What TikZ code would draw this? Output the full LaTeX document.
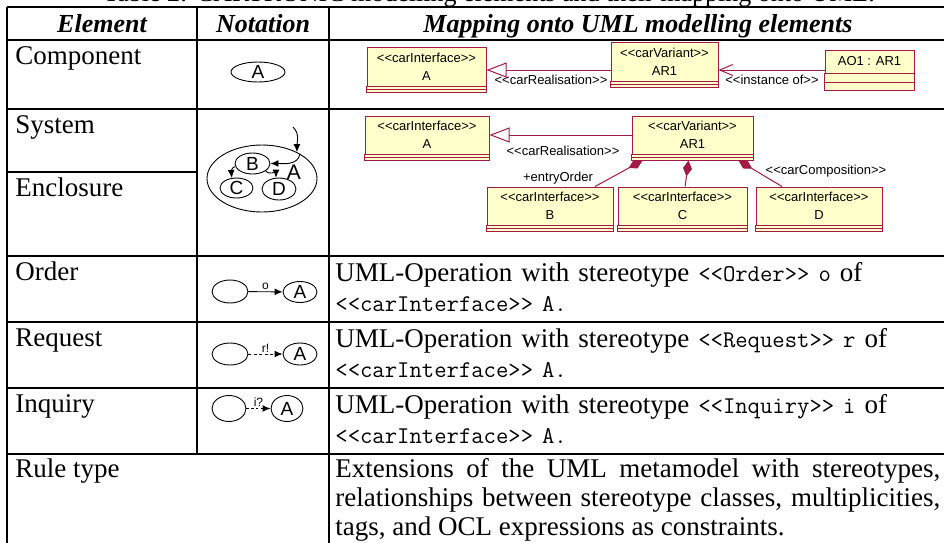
\documentclass[tikz,border=0pt]{standalone}
\usepackage{fontspec}
\setmainfont{Liberation Serif}
\setsansfont{Liberation Sans}
\usetikzlibrary{shapes.geometric,arrows.meta,positioning,calc}

\definecolor{umlline}{RGB}{163,26,68}
\definecolor{umlfill}{RGB}{255,255,204}
\newcommand{\stereo}[1]{<\kern0pt<#1>\kern0pt>}
\newcommand{\codetext}{\ttfamily\fontsize{12}{15}\selectfont}

\tikzset{
  rule/.style={line width=1.1pt},
  celltext/.style={anchor=base west, inner sep=0pt, align=left,
    font=\fontsize{13.5}{15}\selectfont},
  maptext/.style={celltext, text width=302.5pt},
  headtext/.style={anchor=base, inner sep=0pt,
    font=\fontsize{13}{15}\selectfont\bfseries\itshape},
  comp/.style={ellipse, draw, line width=0.45pt, inner sep=0pt,
    font=\sffamily\fontsize{9.5}{10}\selectfont},
  notearrow/.style={-{Latex[length=4pt,width=3.4pt]}, line width=0.45pt},
  notelabel/.style={inner sep=0.6pt, font=\sffamily\fontsize{6}{6}\selectfont},
  umlbox/.style={draw=umlline, fill=umlfill, line width=0.5pt, inner sep=0pt,
    align=center, font=\sffamily\fontsize{6.5}{9}\selectfont},
  umllabel/.style={inner sep=0pt, font=\sffamily\fontsize{6.5}{8}\selectfont},
  umlconn/.style={draw=umlline, line width=0.5pt},
}

\begin{document}
\begin{tikzpicture}[x=0.5pt, y=-0.5pt]
  \useasboundingbox (0,0) rectangle (944,542);

  \node[anchor=base, inner sep=0pt, font=\fontsize{13}{15}\selectfont] (caption)
    at (489,1) {Table 2: CARTRONIC modelling elements and their mapping onto UML.};

  % table rules
  \draw[rule] (7,7) -- (948,7);
  \draw[rule] (7,40) -- (948,40);
  \draw[rule] (7,109) -- (948,109);
  \draw[rule] (7,172) -- (197,172);
  \draw[rule] (7,256) -- (948,256);
  \draw[rule] (7,322) -- (948,322);
  \draw[rule] (7,388) -- (948,388);
  \draw[rule] (7,454) -- (948,454);
  \draw[rule] (7,7) -- (7,545);
  \draw[rule] (197,7) -- (197,454);
  \draw[rule] (329,7) -- (329,545);
  \draw[rule] (948,7) -- (948,545);

  % header
  \node[headtext] (hElement) at (102,32) {Element};
  \node[headtext] (hNotation) at (263,32) {Notation};
  \node[headtext] (hMapping) at (638,32) {Mapping onto UML modelling elements};

  % element names
  \node[celltext] (eComponent) at (15,64) {Component};
  \node[celltext] (eSystem) at (15,133) {System};
  \node[celltext] (eEnclosure) at (15,196) {Enclosure};
  \node[celltext] (eOrder) at (15,280) {Order};
  \node[celltext] (eRequest) at (15,346) {Request};
  \node[celltext] (eInquiry) at (15,412) {Inquiry};
  \node[celltext] (eRule) at (15,477) {Rule type};

  % notation: component
  \node[comp, minimum width=27pt, minimum height=10pt] (nCompA) at (258,72) {A};

  % notation: system / enclosure
  \node[comp, minimum width=55pt, minimum height=33.5pt] (nSys) at (262,178.5) {};
  \node[inner sep=0pt, font=\sffamily\fontsize{10.5}{11}\selectfont] (nSysA) at (294,172) {A};
  \node[comp, minimum width=17.5pt, minimum height=10.5pt] (nB) at (252.5,163.5) {B};
  \node[comp, minimum width=16.5pt, minimum height=10pt] (nC) at (236.5,188) {C};
  \node[comp, minimum width=17pt, minimum height=11pt] (nD) at (279,189) {D};
  \coordinate (sysIn) at (293,127);
  \draw[notearrow] (sysIn) to[out=-45, in=90] (nSys.37);
  \draw[notearrow] (nSys.33) to[out=-100, in=0] (nB.east);
  \draw[notearrow] (nB.190) to[out=190, in=95] (nC.115);
  \draw[notearrow] (nB.-30) to[out=-50, in=90] (nD.105);

  % notation: order, request, inquiry
  \node[comp, minimum width=18pt, minimum height=11.5pt] (nO0) at (230,291.5) {};
  \node[comp, minimum width=17pt, minimum height=10.5pt] (nOA) at (300,292) {A};
  \draw[notearrow] (nO0) -- node[above, notelabel] {o} (nOA);

  \node[comp, minimum width=18pt, minimum height=11pt] (nR0) at (230,354) {};
  \node[comp, minimum width=17pt, minimum height=11pt] (nRA) at (300,354) {A};
  \draw[notearrow, dash pattern=on 1.5pt off 1.2pt] (nR0) -- node[above, notelabel] {r!} (nRA);

  \node[comp, minimum width=17pt, minimum height=13pt] (nI0) at (229,408.5) {};
  \node[comp, minimum width=16pt, minimum height=13pt] (nIA) at (287,408.5) {A};
  \draw[notearrow, dash pattern=on 1.2pt off 1.2pt] (nI0) -- node[above, notelabel] {i?} (nIA);

  % mapping: component
  \node[umlbox, minimum width=59.5pt, minimum height=19.5pt] (cA) at (426.5,66.5)
    {\stereo{carInterface}\\A};
  \node[umlbox, minimum width=53.5pt, minimum height=19.5pt] (cAR1) at (664.5,61.5)
    {\stereo{carVariant}\\AR1};
  \node[umlbox, minimum width=44.5pt, minimum height=11.5pt] (cAO1) at (869.5,61.5)
    {AO1 : AR1};
  \draw[umlconn, fill=umlfill] (cAO1.south west) rectangle ([yshift=-4.5pt]cAO1.south east);
  \draw[umlconn, fill=umlfill] ([yshift=-4.5pt]cAO1.south west) rectangle ([yshift=-8.5pt]cAO1.south east);
  \coordinate (genY) at (0,70);
  \draw[umlconn, -{Triangle[open, length=10pt, width=7.5pt, fill=white]}]
    (cAR1.west |- genY) -- (cA.east |- genY);
  \draw[umlconn, -{Straight Barb[length=6.5pt, width=5.5pt]}]
    (cAO1.west |- genY) -- (cAR1.east |- genY);
  \node[umllabel] (cReal) at (551,80) {\stereo{carRealisation}};
  \node[umllabel] (cInst) at (772,80) {\stereo{instance of}};

  % mapping: system
  \node[umlbox, minimum width=62pt, minimum height=19pt] (sA) at (427,135)
    {\stereo{carInterface}\\A};
  \node[umlbox, minimum width=60.5pt, minimum height=19pt] (sAR1) at (692.5,135)
    {\stereo{carVariant}\\AR1};
  \node[umlbox, minimum width=63pt, minimum height=19pt] (sB) at (550,206)
    {\stereo{carInterface}\\B};
  \node[umlbox, minimum width=64.5pt, minimum height=19pt] (sC) at (682.5,206)
    {\stereo{carInterface}\\C};
  \node[umlbox, minimum width=63pt, minimum height=19pt] (sD) at (819,206)
    {\stereo{carInterface}\\D};
  \draw[umlconn, -{Triangle[open, length=10pt, width=7.5pt, fill=white]}]
    (sAR1.west) -- (sA.east);
  \node[umllabel] (sReal) at (563,151) {\stereo{carRealisation}};
  \draw[umlconn, {Diamond[length=8pt, width=4.5pt, fill=umlline]}-]
    ([xshift=-25pt, yshift=-3pt]sAR1.south) -- ([xshift=22.5pt]sB.north);
  \draw[umlconn, {Diamond[length=8pt, width=4.5pt, fill=umlline]}-]
    ([xshift=-2pt, yshift=-3pt]sAR1.south) -- ([xshift=1.3pt]sC.north);
  \draw[umlconn, {Diamond[length=8pt, width=4.5pt, fill=umlline]}-]
    ([xshift=23pt, yshift=-3pt]sAR1.south) -- ([xshift=-18.5pt]sD.north);
  \node[umllabel] (sEntry) at (558,178) {+entryOrder};
  \node[umllabel] (sCompo) at (826,171) {\stereo{carComposition}};

  % thin attribute and operation compartments
  \foreach \b in {cA,cAR1,sA,sAR1,sB,sC,sD} {
    \draw[umlconn, fill=umlfill] (\b.south west) rectangle ([yshift=-1.5pt]\b.south east);
    \draw[umlconn, fill=umlfill] ([yshift=-1.5pt]\b.south west) rectangle ([yshift=-3pt]\b.south east);
  }

  % mapping: operations and rule type
  \node[maptext] (mOrder) at (335,281)
    {UML-Operation with stereotype {\codetext\stereo{Order} o} of\\
     {\codetext\stereo{carInterface} A.}};
  \node[maptext] (mRequest) at (335,347)
    {UML-Operation with stereotype {\codetext\stereo{Request} r} of\\
     {\codetext\stereo{carInterface} A.}};
  \node[maptext] (mInquiry) at (335,413)
    {UML-Operation with stereotype {\codetext\stereo{Inquiry} i} of\\
     {\codetext\stereo{carInterface} A.}};
  \node[maptext, align=justify, font=\fontsize{13.5}{14.5}\selectfont] (mRule) at (335,477)
    {Extensions of the UML metamodel with stereotypes,\linebreak
     relationships between stereotype classes, multiplicities,\linebreak
     tags, and OCL expressions as constraints.};
\end{tikzpicture}
\end{document}
